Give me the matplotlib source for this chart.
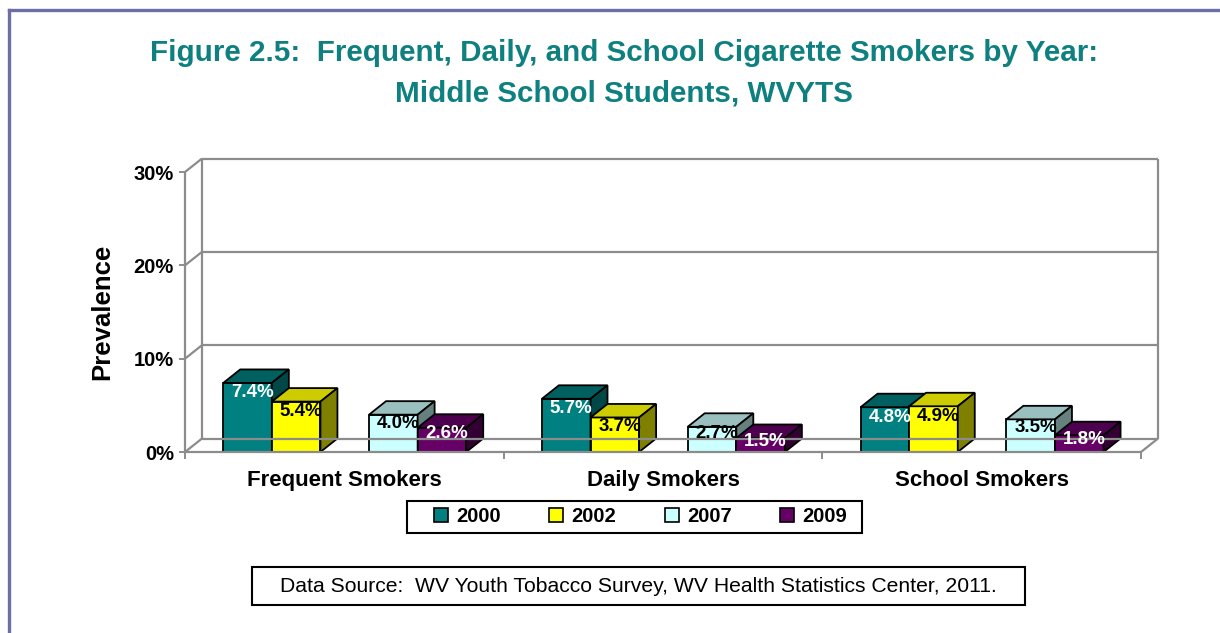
import matplotlib
matplotlib.use("Agg")
import matplotlib.pyplot as plt
from matplotlib.patches import Polygon, Rectangle
from matplotlib.lines import Line2D

plt.rcParams['font.family'] = ['Liberation Sans', 'DejaVu Sans']

categories = ["Frequent Smokers", "Daily Smokers", "School Smokers"]
years = ["2000", "2002", "2007", "2009"]
values = {
    "2000": [7.4, 5.7, 4.8],
    "2002": [5.4, 3.7, 4.9],
    "2007": [4.0, 2.7, 3.5],
    "2009": [2.6, 1.5, 1.8],
}
y_ticks = [0, 10, 20, 30]
y_tick_labels = ["0%", "10%", "20%", "30%"]

# face colours: front, top, side
face_colors = {
    "2000": ("#008080", "#006060", "#004848"),
    "2002": ("#FFFF00", "#CCCC00", "#808000"),
    "2007": ("#CCFFFF", "#99BFBF", "#668080"),
    "2009": ("#660066", "#4D004D", "#330033"),
}
label_colors = {"2000": "white", "2002": "black", "2007": "black", "2009": "white"}
slot_of = {"2000": 0, "2002": 1, "2007": 3, "2009": 4}

W, H = 1220, 633
fig = plt.figure(figsize=(W / 100, H / 100), dpi=100)
fig.patch.set_facecolor("white")

def fx(px):
    return px / W

def fy(py):
    return 1 - py / H

# front plane of the 3-D plot
ax_l, ax_r, ax_b, ax_t = 185, 1141, 452, 172
ax = fig.add_axes([fx(ax_l), fy(ax_b), (ax_r - ax_l) / W, (ax_b - ax_t) / H])
ax.set_xlim(0, 3)
ax.set_ylim(0, 30)
for s in ax.spines.values():
    s.set_visible(False)
ax.patch.set_visible(False)

px_x = 3 / (ax_r - ax_l)
px_y = 30 / (ax_b - ax_t)
dx = 17 * px_x
dy = 13.5 * px_y

grid_c = "#8C8C8C"
glw = 1.6

def seg(xs, ys):
    ax.plot(xs, ys, color=grid_c, lw=glw, clip_on=False, solid_capstyle="butt")

# walls and gridlines
for yv in y_ticks:
    seg([dx, 3 + dx], [yv + dy, yv + dy])
    seg([0, dx], [yv, yv + dy])
seg([dx, dx], [dy, 30 + dy])
seg([3 + dx, 3 + dx], [dy, 30 + dy])
seg([0, 0], [0, 30])
seg([0, 3], [0, 0])
seg([3, 3 + dx], [0, dy])

# axis ticks
ax.set_yticks(y_ticks)
ax.set_yticklabels(y_tick_labels, fontsize=14.5, fontweight="bold")
ax.tick_params(axis="y", direction="out", length=4, width=1.4, color=grid_c, pad=4)
ax.set_xticks([0, 1, 2, 3])
ax.set_xticklabels([])
ax.tick_params(axis="x", which="major", direction="out", length=5, width=1.4, color=grid_c)
ax.set_xticks([0.5, 1.5, 2.5], minor=True)
ax.set_xticklabels(categories, minor=True, fontsize=16, fontweight="bold")
ax.tick_params(axis="x", which="minor", length=0, pad=13)

ax.set_ylabel("Prevalence", fontsize=18.5, fontweight="bold", labelpad=14)

# 3-D bars
bw = 0.1525
gap = 0.12
for ci in range(len(categories)):
    for yr in years:
        v = values[yr][ci]
        x0 = ci + gap + slot_of[yr] * bw
        x1 = x0 + bw
        fc, tc, sc = face_colors[yr]
        front = Polygon([(x0, 0), (x1, 0), (x1, v), (x0, v)], closed=True,
                        facecolor=fc, edgecolor="black", lw=1.3, clip_on=False)
        top = Polygon([(x0, v), (x1, v), (x1 + dx, v + dy), (x0 + dx, v + dy)], closed=True,
                      facecolor=tc, edgecolor="black", lw=1.3, clip_on=False)
        side = Polygon([(x1, 0), (x1 + dx, dy), (x1 + dx, v + dy), (x1, v)], closed=True,
                       facecolor=sc, edgecolor="black", lw=1.3, clip_on=False)
        for p in (front, top, side):
            ax.add_patch(p)
        # value label sits just under the top edge; short bars push it up
        drop = min(10 * px_y, 0.25 * v)
        ax.text((x0 + x1) / 2 + 5 * px_x, v - drop, f"{v:.1f}%", ha="center", va="center",
                fontsize=13.5, fontweight="bold", color=label_colors[yr], clip_on=False)

# title
title_c = "#0E8080"
fig.text(fx(624), fy(53), "Figure 2.5:  Frequent, Daily, and School Cigarette Smokers by Year:",
         ha="center", va="center", fontsize=21.3, fontweight="bold", color=title_c)
fig.text(fx(624), fy(94), "Middle School Students, WVYTS",
         ha="center", va="center", fontsize=21.3, fontweight="bold", color=title_c)

# legend box and entries
fig.add_artist(Rectangle((fx(407), fy(533)), (862 - 407) / W, (533 - 501) / H,
                         transform=fig.transFigure, facecolor="white",
                         edgecolor="black", lw=1.5))
handles = [Line2D([], [], marker="s", linestyle="none", markersize=10,
                  markerfacecolor=face_colors[yr][0], markeredgecolor="black",
                  markeredgewidth=1.2) for yr in years]
leg = fig.legend(handles, years, loc="center", bbox_to_anchor=(fx(640), fy(517)),
                 ncol=4, frameon=False, prop={"weight": "bold", "size": 14.5},
                 handlelength=0.8, handletextpad=0.35, columnspacing=2.35,
                 borderpad=0.0, borderaxespad=0)
leg.set_zorder(5)

# data source note
fig.add_artist(Rectangle((fx(252), fy(605)), (1025 - 252) / W, (605 - 567) / H,
                         transform=fig.transFigure, facecolor="white",
                         edgecolor="black", lw=1.5))
fig.text(fx(638), fy(586),
         "Data Source:  WV Youth Tobacco Survey, WV Health Statistics Center, 2011.",
         ha="center", va="center", fontsize=15.2, zorder=5)

# outer border (top and left)
border_c = "#6E6EA6"
fig.add_artist(Line2D([fx(9), 1], [fy(10), fy(10)], color=border_c, lw=2.4,
                      transform=fig.transFigure))
fig.add_artist(Line2D([fx(9), fx(9)], [fy(10), 0], color=border_c, lw=2.4,
                      transform=fig.transFigure))

fig.savefig("out.png", dpi=100)
